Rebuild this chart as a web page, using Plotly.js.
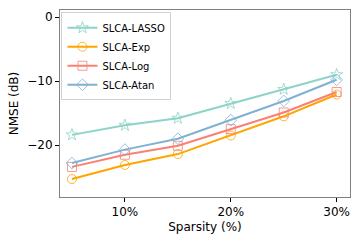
<!DOCTYPE html>
<html>
<head>
<meta charset="utf-8">
<script src="https://cdn.plot.ly/plotly-3.0.1.min.js"></script>
<style>html,body{margin:0;padding:0;background:#fff;}#chart{width:363px;height:242px;}</style>
</head>
<body>
<div id="chart"></div>
<script>
const sparsity = [5, 10, 15, 20, 25, 30];
const lasso = [-18.4, -16.9, -15.8, -13.5, -11.3, -9.0];
const expv = [-25.3, -23.1, -21.4, -18.5, -15.5, -12.1];
const logv = [-23.4, -21.5, -20.1, -17.5, -14.9, -11.7];
const atan = [-22.8, -20.7, -19.0, -16.1, -13.1, -9.8];
const names = ["SLCA-LASSO", "SLCA-Exp", "SLCA-Log", "SLCA-Atan"];
const colors = ["#8dd3c7", "#ffa500", "#fa8072", "#80b1d3"];
const symbols = ["star-open", "circle-open", "square-open", "diamond-open"];
const series = [lasso, expv, logv, atan];
const xTickVals = [10, 20, 30];
const yTickVals = [0, -10, -20];

const traces = series.map((ys, i) => ({
  x: sparsity, y: ys, name: names[i], type: "scatter", mode: "lines+markers",
  line: {color: colors[i], width: 2},
  marker: {symbol: symbols[i], size: 9, color: colors[i], opacity: 0.8, line: {width: 1, color: colors[i]}}
}));

const font = "DejaVu Sans, sans-serif";
const layout = {
  width: 363, height: 242,
  margin: {l: 60, r: 13, t: 10, b: 45},
  paper_bgcolor: "#fff", plot_bgcolor: "#fff",
  font: {family: font, size: 12, color: "#000"},
  showlegend: true,
  legend: {x: 0.005, y: 0.988, xanchor: "left", yanchor: "top",
    bgcolor: "rgba(255,255,255,0.8)", bordercolor: "#d0d0d0", borderwidth: 1,
    font: {family: font, size: 10}, tracegroupgap: 0, itemwidth: 30},
  xaxis: {range: [3.87, 31.26], tickvals: xTickVals, ticktext: xTickVals.map(v => v + "%"),
    showgrid: false, zeroline: false, showline: true, mirror: true, linecolor: "#808080", linewidth: 1,
    ticks: "outside", ticklen: 4, tickcolor: "#000", tickfont: {size: 12},
    title: {text: "Sparsity (%)", font: {size: 12}, standoff: 4}},
  yaxis: {range: [-28.1, 1.1], tickvals: yTickVals,
    showgrid: false, zeroline: false, showline: true, mirror: true, linecolor: "#808080", linewidth: 1,
    ticks: "outside", ticklen: 4, tickcolor: "#000", tickfont: {size: 12},
    title: {text: "NMSE (dB)", font: {size: 12}, standoff: 6}}
};
Plotly.newPlot("chart", traces, layout, {displayModeBar: false, staticPlot: true});
</script>
</body>
</html>
